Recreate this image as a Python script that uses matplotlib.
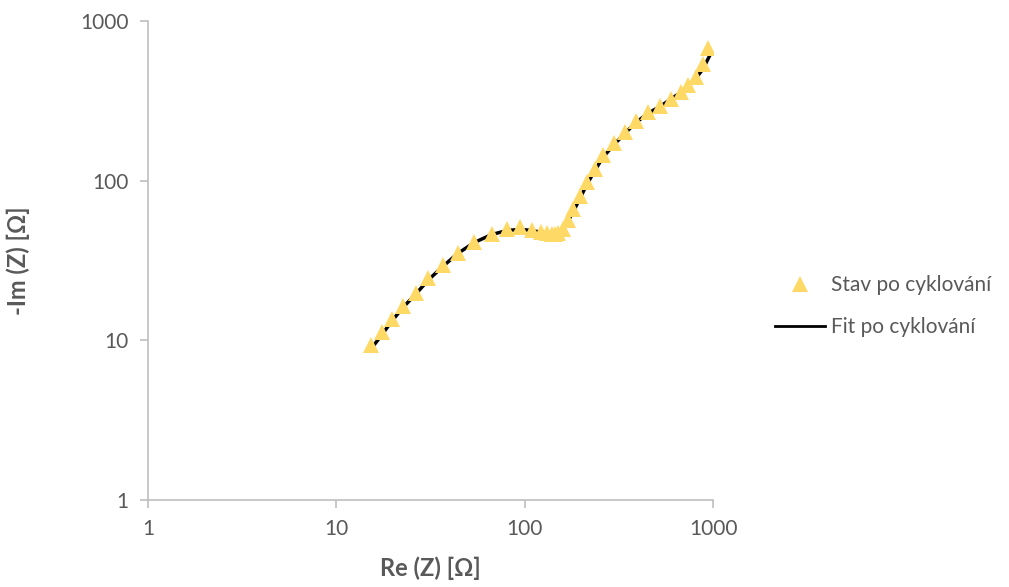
import matplotlib.pyplot as plt
from matplotlib.lines import Line2D

# Measured data (Nyquist, log-log)
re_z = [15.2, 17.4, 19.7, 22.5, 26.4, 30.8, 36.7, 44.1, 54, 66.8, 80.9, 94.6,
        109, 122, 131, 139, 145, 151, 159, 170, 181, 197, 214, 236, 260, 298,
        340, 391, 451, 524, 599, 674, 740, 813, 883, 938]
im_z = [9.4, 11.3, 13.7, 16.4, 19.9, 24.4, 29.6, 35.4, 41.4, 46.3, 49.6, 51,
        49.1, 47.9, 47.0, 46.3, 46.3, 47, 50, 57, 66, 80, 98, 119, 145, 171,
        202, 236, 268, 294, 327, 361, 397, 444, 535, 674]

# Fit curve
fit_re = [15.0, 17.4, 19.7, 22.5, 26.4, 30.8, 36.7, 44.1, 54, 66.8, 80.9, 94.6,
          109, 122, 131, 139, 145, 151, 159, 170, 181, 197, 214, 236, 260, 298,
          340, 391, 451, 524, 599, 674, 740, 813, 883, 955]
fit_im = [8.6, 10.8, 13.2, 16.0, 19.5, 23.9, 29.0, 35.0, 41.0, 46.0, 48.8, 49.5,
          48.8, 47.5, 46.8, 46.3, 46.5, 47.5, 50.5, 56, 64, 78, 95, 116, 140, 168,
          198, 232, 264, 292, 325, 358, 393, 440, 500, 600]

gray = "#595959"
gold = "#FFD966"
plt.rcParams["font.family"] = ["Lato", "DejaVu Sans"]

fig = plt.figure(figsize=(10.09, 5.87), dpi=100)
ax = fig.add_axes([0.1467, 0.1482, 0.56, 0.816])

ax.plot(fit_re, fit_im, color="black", lw=2.5, zorder=2)
ax.plot(re_z, im_z, linestyle="none", marker="^", markersize=12,
        color=gold, markeredgewidth=0, zorder=3)

ax.set_xscale("log")
ax.set_yscale("log")
ax.set_xlim(1, 1000)
ax.set_ylim(1, 1000)
ax.set_xticks([1, 10, 100, 1000])
ax.set_xticklabels(["1", "10", "100", "1000"])
ax.set_yticks([1, 10, 100, 1000])
ax.set_yticklabels(["1", "10", "100", "1000"])
ax.minorticks_off()

for s in ["top", "right"]:
    ax.spines[s].set_visible(False)
for s in ["left", "bottom"]:
    ax.spines[s].set_color("#BFBFBF")
    ax.spines[s].set_linewidth(1.2)
ax.tick_params(axis="both", direction="out", length=6, width=1.2,
               color="#BFBFBF", labelcolor=gray, labelsize=15, pad=8)

ax.set_xlabel("Re (Z) [Ω]", fontsize=17, fontweight="bold", color=gray, labelpad=12)
ax.set_ylabel("-Im (Z) [Ω]", fontsize=17, fontweight="bold", color=gray, labelpad=36)

handles = [
    Line2D([], [], linestyle="none", marker="^", markersize=12, color=gold,
           markeredgewidth=0),
    Line2D([], [], color="black", lw=2),
]
fig.legend(handles, ["Stav po cyklování", "Fit po cyklování"],
           loc="center left", bbox_to_anchor=(0.768, 0.478), frameon=False,
           fontsize=15, labelcolor=gray, handlelength=2.4, handletextpad=0.3,
           labelspacing=1.05, borderpad=0, borderaxespad=0)

fig.savefig("out.png", dpi=100)
